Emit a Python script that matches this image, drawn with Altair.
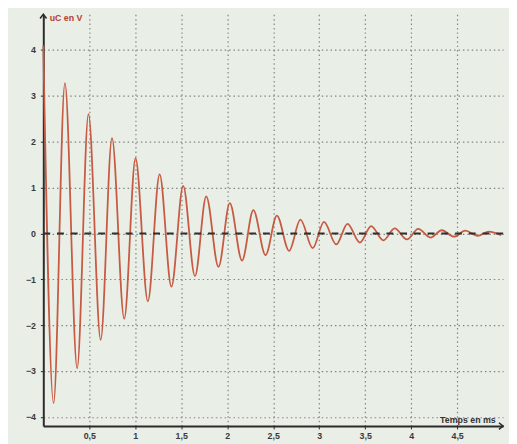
import altair as alt
import pandas as pd

# Extrema of the damped oscillation (time in ms, voltage in V)
t_ms = [0.000, 0.112, 0.235, 0.368, 0.491, 0.624, 0.747, 0.880, 1.003, 1.137,
        1.265, 1.393, 1.521, 1.649, 1.772, 1.905, 2.028, 2.161, 2.284, 2.417,
        2.540, 2.673, 2.796, 2.930, 3.052, 3.186, 3.308, 3.442, 3.565, 3.698,
        3.821, 3.954, 4.077, 4.210, 4.333, 4.466, 4.589, 4.723, 4.845, 4.979]
u_v = [4.10, -3.70, 3.28, -2.94, 2.60, -2.32, 2.08, -1.86, 1.64, -1.48,
       1.29, -1.16, 1.04, -0.93, 0.81, -0.73, 0.66, -0.59, 0.51, -0.47,
       0.39, -0.38, 0.30, -0.32, 0.25, -0.24, 0.21, -0.20, 0.16, -0.15,
       0.11, -0.13, 0.10, -0.09, 0.07, -0.07, 0.06, -0.05, 0.04, -0.04]

x_ticks = [0.5, 1, 1.5, 2, 2.5, 3, 3.5, 4, 4.5]
y_ticks = [-4, -3, -2, -1, 0, 1, 2, 3, 4]
x_title = "Temps en ms"
y_title = "uC en V"

X_MIN, X_MAX = 0, 5
Y_MIN, Y_MAX = -4.2, 4.78
W, H = 469, 420

df = pd.DataFrame({"t": t_ms, "u": u_v})

label_expr = "replace(format(datum.value, '~g'), '.', ',')"
font = "Liberation Sans"

xscale = alt.Scale(domain=[X_MIN, X_MAX], nice=False, zero=False)
yscale = alt.Scale(domain=[Y_MIN, Y_MAX], nice=False, zero=False)

line = alt.Chart(df).mark_line(
    color="#c65a42", strokeWidth=1.8, interpolate="monotone"
).encode(
    x=alt.X("t:Q", scale=xscale, axis=alt.Axis(
        values=x_ticks, labelExpr=label_expr, grid=True,
        gridDash=[1.5, 3], gridColor="#7f8680", gridWidth=1.2,
        domainColor="#2b2b2b", domainWidth=2, tickColor="#2b2b2b", tickSize=3,
        labelFont=font, labelFontSize=9, labelFontWeight="bold", labelColor="#3a3a3a",
        labelPadding=3,
        title=x_title, titleFont=font, titleFontSize=9, titleFontWeight="bold",
        titleColor="#333333", titleX=W - 8, titleY=-2, titleAlign="right",
        titleBaseline="bottom", titleAngle=0)),
    y=alt.Y("u:Q", scale=yscale, axis=alt.Axis(
        values=y_ticks, labelExpr=label_expr, grid=True,
        gridDash=[1.5, 3], gridColor="#7f8680", gridWidth=1.2,
        domainColor="#2b2b2b", domainWidth=2, tickColor="#2b2b2b", tickSize=3,
        labelFont=font, labelFontSize=9, labelFontWeight="bold", labelColor="#3a3a3a",
        labelPadding=5,
        title=y_title, titleFont=font, titleFontSize=9, titleFontWeight="bold",
        titleColor="#b8402e", titleX=6, titleY=3, titleAlign="left",
        titleBaseline="middle", titleAngle=0)),
)

zero = alt.Chart(pd.DataFrame({"z": [0]})).mark_rule(
    color="#2f2f2f", strokeWidth=2, strokeDash=[7, 7]
).encode(y=alt.Y("z:Q", scale=yscale))

one = pd.DataFrame({"a": [0]})
arrow_up = alt.Chart(one).mark_point(
    shape="M-0.7,0.9L0,0L0.7,0.9", filled=False, size=90,
    stroke="#2b2b2b", strokeWidth=1.5, opacity=1
).encode(x=alt.datum(X_MIN), y=alt.datum(Y_MAX))

arrow_right = alt.Chart(one).mark_point(
    shape="M-0.9,-0.7L0,0L-0.9,0.7", filled=False, size=90,
    stroke="#2b2b2b", strokeWidth=1.5, opacity=1
).encode(x=alt.datum(X_MAX), y=alt.datum(Y_MIN))

chart = alt.layer(line, zero, arrow_up, arrow_right).properties(
    width=W, height=H,
    autosize=alt.AutoSizeParams(type="none"),
    padding={"left": 36, "top": 2, "right": 6, "bottom": 18},
    background="#e9eee6",
).configure_view(stroke=None)

chart.save("out.html", embed_options={"renderer": "svg", "actions": False})
